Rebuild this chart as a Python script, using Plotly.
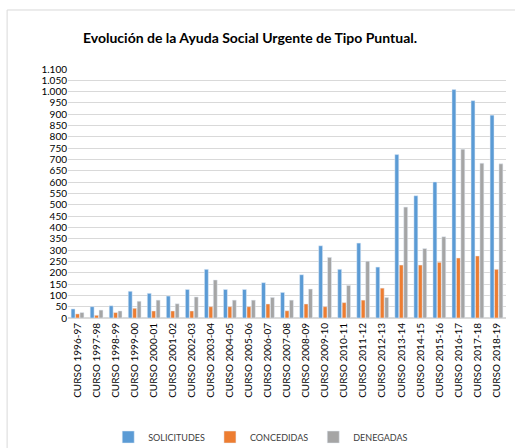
import plotly.graph_objects as go

cursos = ['CURSO 1996-97', 'CURSO 1997-98', 'CURSO 1998-99', 'CURSO 1999-00', 'CURSO 2000-01',
          'CURSO 2001-02', 'CURSO 2002-03', 'CURSO 2003-04', 'CURSO 2004-05', 'CURSO 2005-06',
          'CURSO 2006-07', 'CURSO 2007-08', 'CURSO 2008-09', 'CURSO 2009-10', 'CURSO 2010-11',
          'CURSO 2011-12', 'CURSO 2012-13', 'CURSO 2013-14', 'CURSO 2014-15', 'CURSO 2015-16',
          'CURSO 2016-17', 'CURSO 2017-18', 'CURSO 2018-19']

solicitudes = [40, 50, 54, 118, 109, 97, 126, 215, 126, 126, 156, 113, 191, 319, 215,
               331, 225, 722, 540, 601, 1009, 960, 896]
concedidas = [18, 12, 24, 43, 31, 31, 31, 50, 50, 50, 62, 32, 62, 50, 68,
              79, 132, 234, 234, 246, 265, 274, 215]
denegadas = [24, 35, 31, 74, 79, 63, 93, 168, 79, 79, 91, 79, 128, 268, 144,
             251, 91, 490, 307, 359, 746, 684, 681]

colors = {'sol': '#5B9BD5', 'con': '#ED7D31', 'den': '#A5A5A5'}
font_family = 'Lato, Carlito, Liberation Sans, sans-serif'

fig = go.Figure()
fig.add_bar(name='SOLICITUDES', x=cursos, y=solicitudes, marker_color=colors['sol'])
fig.add_bar(name='CONCEDIDAS', x=cursos, y=concedidas, marker_color=colors['con'])
fig.add_bar(name='DENEGADAS', x=cursos, y=denegadas, marker_color=colors['den'])

# chart frame like the excel chart area border
fig.add_shape(type='rect', xref='paper', yref='paper', x0=-0.139, x1=1.2, y0=-0.8, y1=1.237,
              line=dict(color='#D9D9D9', width=1), fillcolor='rgba(0,0,0,0)', layer='below')

fig.update_layout(
    width=515, height=448,
    margin=dict(l=68, r=9, t=69, b=130, autoexpand=False),
    barmode='group', bargap=0.3, bargroupgap=0.12,
    plot_bgcolor='white', paper_bgcolor='white',
    separators=',.',
    font=dict(family=font_family, size=10, color='#404040'),
    title=dict(text='<b>Evolución de la Ayuda Social Urgente de Tipo Puntual.</b>',
               x=250 / 515, xanchor='center', xref='container',
               y=1 - 38 / 448, yanchor='middle', yref='container',
               font=dict(size=14, color='#000000', family=font_family)),
    legend=dict(orientation='h', x=0.44, xanchor='center', y=-0.478, yanchor='middle',
                font=dict(size=9, color='#404040'), itemwidth=30, traceorder='normal'),
)
fig.update_yaxes(range=[0, 1100], dtick=50, tickformat=',d', showgrid=True,
                 gridcolor='#D9D9D9', gridwidth=1, zeroline=True, zerolinecolor='#D9D9D9',
                 ticks='', tickfont=dict(size=10, color='#000000'), fixedrange=True)
fig.update_xaxes(tickangle=-90, showline=True, linecolor='#D9D9D9', ticks='',
                 tickfont=dict(size=10, color='#000000'))

fig.write_html('out.html', config={'displayModeBar': False},
               post_script="document.body.style.margin='0';")
